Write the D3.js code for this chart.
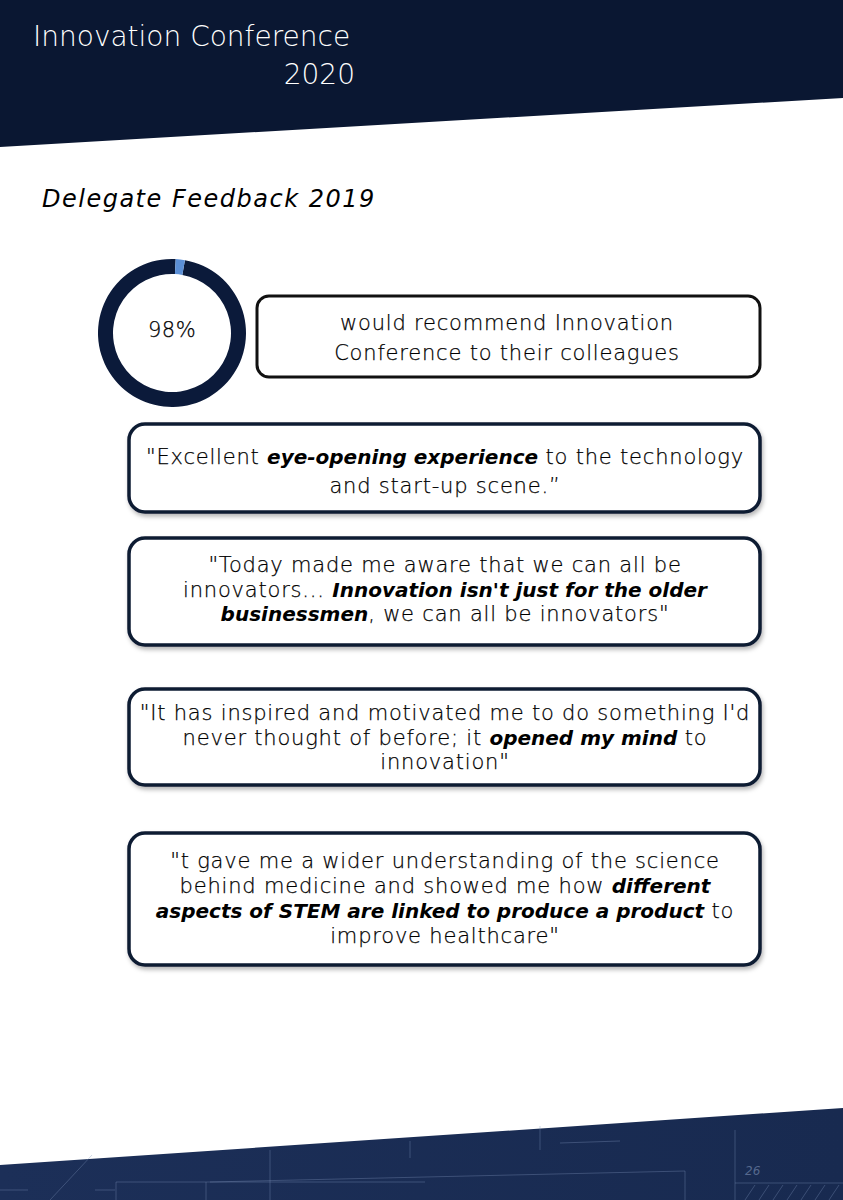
<!DOCTYPE html>
<html>
<head>
<meta charset="utf-8">
<script src="https://cdn.jsdelivr.net/npm/d3@7.9.0/dist/d3.min.js"></script>
<style>
  html, body { margin: 0; padding: 0; background: #fff; }
  svg { display: block; }
  text { font-family: "DejaVu Sans", sans-serif; }
</style>
</head>
<body>
<svg id="page"></svg>
<script>
const width = 843;
const height = 1200;

// donut: share that would recommend vs the rest
const recommendLabels = ['recommend', 'other'];
const recommendValues = [98, 2];
const donutColors = ['#0b1a3a', '#5b8fd6'];

// quote boxes, each line is a list of [text, emphasised]
const recommendLines = [
  [['would recommend Innovation', false]],
  [['Conference to their colleagues', false]],
];

const quotes = [
  [
    [['"Excellent ', false], ['eye-opening experience', true], [' to the technology', false]],
    [['and start-up scene.\u201D', false]],
  ],
  [
    [['"Today made me aware that we can all be', false]],
    [['innovators... ', false], ["Innovation isn't just for the older", true]],
    [['businessmen', true], [', we can all be innovators"', false]],
  ],
  [
    [['"It has inspired and motivated me to do something I\'d', false]],
    [['never thought of before; it ', false], ['opened my mind', true], [' to', false]],
    [['innovation"', false]],
  ],
  [
    [['"t gave me a wider understanding of the science', false]],
    [['behind medicine and showed me how ', false], ['different', true]],
    [['aspects of STEM are linked to produce a product', true], [' to', false]],
    [['improve healthcare"', false]],
  ],
];

const quoteBoxes = [
  { y0: 424, y1: 512, firstBaseline: 464, step: 29 },
  { y0: 538, y1: 645, firstBaseline: 572, step: 24.5 },
  { y0: 689, y1: 785, firstBaseline: 720, step: 24.5 },
  { y0: 833, y1: 965, firstBaseline: 868, step: 25 },
];

const svg = d3.select('#page')
  .attr('width', width)
  .attr('height', height)
  .attr('viewBox', `0 0 ${width} ${height}`);

const defs = svg.append('defs');

const shadow = defs.append('filter')
  .attr('id', 'shadow')
  .attr('x', '-5%').attr('y', '-10%')
  .attr('width', '110%').attr('height', '130%');
shadow.append('feDropShadow')
  .attr('dx', 1.5).attr('dy', 3)
  .attr('stdDeviation', 2)
  .attr('flood-color', '#000')
  .attr('flood-opacity', 0.28);

const footGrad = defs.append('linearGradient')
  .attr('id', 'footGrad')
  .attr('x1', 0).attr('y1', 0).attr('x2', 1).attr('y2', 0);
footGrad.append('stop').attr('offset', '0%').attr('stop-color', '#1c2f58');
footGrad.append('stop').attr('offset', '100%').attr('stop-color', '#182a50');

// header band
svg.append('path')
  .attr('d', d3.line()([[0, 0], [width, 0], [width, 98], [0, 147]]))
  .attr('fill', '#0a1732');

svg.append('text')
  .attr('x', 33).attr('y', 46)
  .attr('fill', '#fff')
  .attr('font-size', 28)
  .attr('font-weight', 200)
  .text('Innovation Conference');

svg.append('text')
  .attr('x', 355).attr('y', 84)
  .attr('text-anchor', 'end')
  .attr('fill', '#fff')
  .attr('font-size', 28)
  .attr('font-weight', 200)
  .text('2020');

svg.append('text')
  .attr('x', 42).attr('y', 207)
  .attr('fill', '#000')
  .attr('font-size', 24)
  .attr('letter-spacing', 1.5)
  .attr('font-style', 'italic')
  .text('Delegate Feedback 2019');

// donut, the small slice sits just right of twelve o'clock
const start = 0.05 + (recommendValues[1] / d3.sum(recommendValues)) * 2 * Math.PI;
const pie = d3.pie().sort(null).startAngle(start).endAngle(start + 2 * Math.PI);
const arc = d3.arc().innerRadius(59).outerRadius(74);
const donut = svg.append('g').attr('transform', 'translate(172,333)');
const pieData = pie(recommendValues).map((d, i) => ({ ...d, label: recommendLabels[i] }));
donut.selectAll('path')
  .data(pieData)
  .join('path')
  .attr('d', arc)
  .attr('fill', (d, i) => donutColors[i]);
donut.append('text')
  .attr('y', 4)
  .attr('text-anchor', 'middle')
  .attr('font-size', 21)
  .attr('font-weight', 200)
  .attr('letter-spacing', 0.5)
  .attr('fill', '#000')
  .attr('stroke', '#000')
  .attr('stroke-width', 0.25)
  .text(d3.format('d')(recommendValues[0]) + '%');

function drawLines(g, lines, cx, firstBaseline, lineStep) {
  lines.forEach((segs, i) => {
    const t = g.append('text')
      .attr('x', cx)
      .attr('y', firstBaseline + i * lineStep)
      .attr('text-anchor', 'middle')
      .attr('fill', '#000');
    segs.forEach(([txt, em]) => {
      const s = t.append('tspan').text(txt);
      if (em) {
        s.attr('font-size', 20)
          .attr('font-weight', 700)
          .attr('font-style', 'italic');
      } else {
        s.attr('font-size', 21)
          .attr('font-weight', 200)
          .attr('letter-spacing', 0.8)
          .attr('stroke', '#000')
          .attr('stroke-width', 0.25);
      }
    });
  });
}

// recommendation box
const rec = svg.append('g');
rec.append('rect')
  .attr('x', 257).attr('y', 296)
  .attr('width', 503).attr('height', 81)
  .attr('rx', 12)
  .attr('fill', '#fff')
  .attr('stroke', '#111')
  .attr('stroke-width', 3);
drawLines(rec, recommendLines, 507, 330, 30);

// quote boxes
const boxX0 = 129, boxX1 = 760;
quotes.forEach((lines, i) => {
  const b = quoteBoxes[i];
  const g = svg.append('g');
  g.append('rect')
    .attr('x', boxX0).attr('y', b.y0)
    .attr('width', boxX1 - boxX0).attr('height', b.y1 - b.y0)
    .attr('rx', 16)
    .attr('fill', '#fff')
    .attr('stroke', '#0d1a33')
    .attr('stroke-width', 3.5)
    .attr('filter', 'url(#shadow)');
  drawLines(g, lines, 445, b.firstBaseline, b.step);
});

// footer band with faint blueprint marks
svg.append('path')
  .attr('d', d3.line()([[0, 1165], [width, 1108], [width, height], [0, height]]))
  .attr('fill', 'url(#footGrad)');

const bp = svg.append('g')
  .attr('stroke', '#7f93b8')
  .attr('stroke-opacity', 0.45)
  .attr('stroke-width', 0.8)
  .attr('fill', 'none');
const blueprint = [
  [[0, 1190], [28, 1190]], [[95, 1190], [115, 1190]],
  [[50, 1200], [92, 1155]],
  [[116, 1182], [116, 1200]], [[116, 1182], [425, 1182]],
  [[206, 1182], [206, 1200]], [[270, 1150], [270, 1200]],
  [[210, 1182], [685, 1171]], [[685, 1171], [685, 1200]],
  [[410, 1141], [410, 1158]], [[540, 1126], [540, 1150]],
  [[560, 1143], [620, 1141]], [[735, 1130], [735, 1200]],
  [[735, 1183], [843, 1183]],
];
bp.selectAll('line')
  .data(blueprint)
  .join('line')
  .attr('x1', d => d[0][0]).attr('y1', d => d[0][1])
  .attr('x2', d => d[1][0]).attr('y2', d => d[1][1]);
bp.selectAll('line.hatch')
  .data(d3.range(745, 843, 14))
  .join('line')
  .attr('class', 'hatch')
  .attr('x1', d => d).attr('y1', 1200)
  .attr('x2', d => d + 10).attr('y2', 1185);
svg.append('text')
  .attr('x', 745).attr('y', 1175)
  .attr('font-size', 12)
  .attr('font-style', 'italic')
  .attr('fill', '#7f93b8')
  .attr('fill-opacity', 0.6)
  .text('26');
</script>
</body>
</html>
